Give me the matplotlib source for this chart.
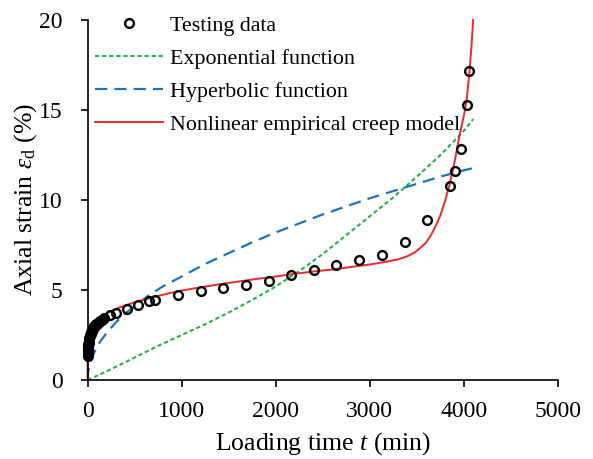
import matplotlib
matplotlib.use("Agg")
import matplotlib.pyplot as plt

# testing data (loading time in min, axial strain in %)
t_test = [0, 1, 2, 3, 4, 5, 7, 9, 11, 14, 17, 20, 24, 28, 33, 38, 44, 50, 57, 64,
          72, 80, 90, 100, 110, 120, 135, 150,
          177, 238, 298, 419, 540, 657, 718, 960, 1205, 1445, 1688, 1925, 2165,
          2405, 2645, 2888, 3128, 3370, 3610, 3848, 3910, 3964, 4030, 4052]
eps_test = [1.35, 1.45, 1.55, 1.63, 1.70, 1.77, 1.88, 1.98, 2.06, 2.16, 2.25, 2.33,
            2.42, 2.50, 2.58, 2.65, 2.72, 2.79, 2.86, 2.92, 2.98, 3.03, 3.09, 3.14,
            3.19, 3.23, 3.29, 3.34,
            3.45, 3.60, 3.74, 3.96, 4.18, 4.37, 4.44, 4.70, 4.93, 5.13, 5.28, 5.53,
            5.82, 6.12, 6.40, 6.66, 6.95, 7.66, 8.88, 10.78, 11.63, 12.81, 15.26, 17.15]

# exponential function fit
t_exp = [0, 250, 500, 750, 1000, 1250, 1500, 1750, 2000, 2250, 2500, 2750, 3000,
         3250, 3500, 3750, 4000, 4100]
eps_exp = [0, 0.6, 1.25, 1.9, 2.5, 3.1, 3.75, 4.45, 5.2, 6.05, 7.0, 8.05, 9.1,
           10.15, 11.3, 12.5, 13.85, 14.5]

# hyperbolic function fit
t_hyp = [0, 5, 15, 30, 60, 100, 150, 200, 300, 400, 500, 650, 800, 1000, 1250, 1500,
         1750, 2000, 2250, 2500, 2750, 3000, 3250, 3500, 3750, 4000, 4120]
eps_hyp = [0, 0.4, 0.7, 1.0, 1.4, 1.85, 2.25, 2.6, 3.2, 3.7, 4.1, 4.7, 5.2, 5.75, 6.45,
           7.05, 7.65, 8.2, 8.7, 9.2, 9.65, 10.1, 10.5, 10.9, 11.3, 11.65, 11.8]

# nonlinear empirical creep model
t_nl = [0, 0.5, 1, 2, 4, 7, 10, 15, 20, 30, 45, 60, 80, 100, 130, 170, 220, 280, 350,
        430, 520, 620, 730, 850, 1000, 1200, 1400, 1600, 1800, 2000, 2200, 2400, 2600,
        2800, 3000, 3150, 3300, 3400, 3480, 3550, 3600, 3650, 3700, 3750, 3800, 3850,
        3900, 3950, 4000, 4030, 4060, 4080, 4098]
eps_nl = [0, 1.2, 1.45, 1.7, 1.95, 2.15, 2.3, 2.45, 2.6, 2.75, 2.92, 3.05, 3.2, 3.3,
          3.45, 3.6, 3.75, 3.9, 4.05, 4.2, 4.35, 4.5, 4.65, 4.8, 4.97, 5.15, 5.32, 5.47,
          5.62, 5.75, 5.9, 6.03, 6.14, 6.28, 6.42, 6.55, 6.7, 6.88, 7.1, 7.4, 7.65, 8.05,
          8.55, 9.15, 9.95, 10.9, 12.1, 13.5, 14.7, 15.6, 17.2, 18.5, 20.0]

plt.rcParams['font.family'] = ['Liberation Serif', 'DejaVu Serif']
plt.rcParams['mathtext.fontset'] = 'custom'
plt.rcParams['mathtext.rm'] = 'Liberation Serif'
plt.rcParams['mathtext.it'] = 'Liberation Serif:italic'

fig = plt.figure(figsize=(5.93, 4.59), dpi=100)
ax = fig.add_axes([0.1476, 0.172, 0.7934, 0.7844])

ax.plot(t_test, eps_test, 'o', ms=6.3, mfc='none', mec='black', mew=1.7,
        clip_on=False, zorder=5, label='Testing data')
ax.plot(t_exp, eps_exp, color='#26b04a', lw=1.5, ls=(0, (2, 1.4)),
        label='Exponential function')
ax.plot(t_hyp, eps_hyp, color='#1b75bc', lw=1.6, ls=(0, (5.5, 3.2)),
        label='Hyperbolic function')
ax.plot(t_nl, eps_nl, color='#f0282d', lw=1.4, clip_on=False,
        label='Nonlinear empirical creep model')

ax.set_xlim(0, 5000)
ax.set_ylim(0, 20)
ax.set_xticks(range(0, 5001, 1000))
ax.set_yticks(range(0, 21, 5))
for s in ['top', 'right']:
    ax.spines[s].set_visible(False)
for s in ['left', 'bottom']:
    ax.spines[s].set_linewidth(1.2)
ax.tick_params(direction='out', length=5, width=1.2, labelsize=17)
ax.tick_params(axis='x', pad=10)
ax.tick_params(axis='y', pad=13)

ax.set_xlabel('Loading time $t$ (min)', fontsize=18.5, labelpad=6)
ax.set_ylabel(r'Axial strain $\varepsilon_\mathrm{d}$ (%)', fontsize=18.5, labelpad=0)

ax.legend(loc='upper left', bbox_to_anchor=(0.015, 1.013), frameon=False,
          fontsize=15.8, numpoints=1, handlelength=3.1, handletextpad=0.32,
          labelspacing=0.58, borderaxespad=0, borderpad=0)

fig.savefig('out.png', dpi=100)
